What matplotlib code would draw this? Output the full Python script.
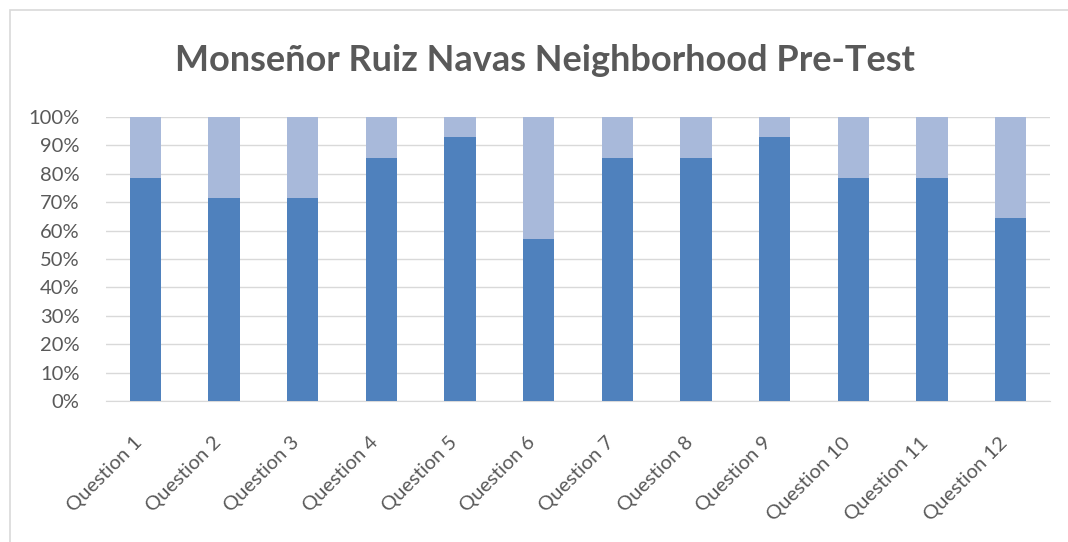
import matplotlib.pyplot as plt
import matplotlib.transforms as mtransforms
from matplotlib.patches import Rectangle
from matplotlib.ticker import PercentFormatter

# dados (fracoes de 14 respostas)
perguntas = ['Question 1', 'Question 2', 'Question 3', 'Question 4', 'Question 5', 'Question 6',
             'Question 7', 'Question 8', 'Question 9', 'Question 10', 'Question 11', 'Question 12']
corretas = [0.786, 0.714, 0.714, 0.857, 0.929, 0.571, 0.857, 0.857, 0.929, 0.786, 0.786, 0.643]
incorretas = [1 - c for c in corretas]

plt.rcParams['font.family'] = ['Lato', 'DejaVu Sans']

fig = plt.figure(figsize=(10.68, 5.42), dpi=100)
ax = fig.add_axes([106 / 1068, 1 - 401 / 542, 944 / 1068, 284 / 542])

# moldura cinza clara do grafico
fig.patches.append(Rectangle((10 / 1068, -0.05), 1.1, 1 - 10 / 542 + 0.05,
                             transform=fig.transFigure, fill=False,
                             edgecolor='#d9d9d9', linewidth=1.2))

x = range(len(perguntas))
ax.bar(x, corretas, width=0.4, color='#4f81bd', zorder=3)
ax.bar(x, incorretas, width=0.4, bottom=corretas, color='#a8b9da', zorder=3)

ax.set_xlim(-0.5, len(perguntas) - 0.5)
ax.set_ylim(0, 1)
ax.set_yticks([i / 10 for i in range(11)])
ax.yaxis.set_major_formatter(PercentFormatter(1.0, decimals=0))
ax.grid(axis='y', color='#d9d9d9', linewidth=1, zorder=0)
for lado in ['top', 'right', 'left']:
    ax.spines[lado].set_visible(False)
ax.spines['bottom'].set_color('#d9d9d9')
ax.tick_params(axis='both', length=0, colors='#595959')
ax.tick_params(axis='y', pad=19, labelsize=14.5)
ax.set_xticks(list(x))
ax.set_xticklabels(perguntas, rotation=45, ha='right', rotation_mode='anchor')
ax.tick_params(axis='x', pad=18, labelsize=14.5)

# desloca os rotulos do eixo x um pouco para baixo e para a esquerda
desloc = mtransforms.ScaledTranslation(-12 / 100, -8 / 100, fig.dpi_scale_trans)
for rotulo in ax.get_xticklabels():
    rotulo.set_transform(rotulo.get_transform() + desloc)

fig.text(545 / 1068, 1 - 60 / 542, 'Monseñor Ruiz Navas Neighborhood Pre-Test',
         ha='center', va='center', fontsize=26, fontweight='bold', color='#595959')

fig.savefig('out.png', dpi=100)
